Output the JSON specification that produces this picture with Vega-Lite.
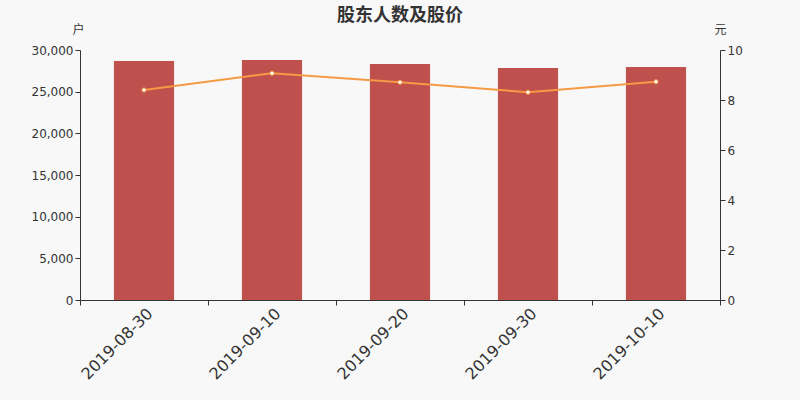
{
  "$schema": "https://vega.github.io/schema/vega-lite/v6.json",
  "width": 640,
  "height": 250,
  "autosize": "none",
  "padding": {"left": 80, "top": 50, "right": 80, "bottom": 100},
  "background": "#f8f8f8",
  "title": {
    "text": "股东人数及股价",
    "fontSize": 18,
    "font": "Noto Sans CJK SC",
    "fontWeight": "bold",
    "color": "#333333",
    "anchor": "middle",
    "offset": -2
  },
  "config": {
    "font": "DejaVu Sans",
    "view": {"stroke": null},
    "axis": {
      "domainColor": "#333333",
      "tickColor": "#333333",
      "labelColor": "#333333",
      "titleColor": "#333333",
      "grid": false,
      "labelFontSize": 12,
      "tickSize": 5
    }
  },
  "data": {
    "values": [
      {"date": "2019-08-30", "holders": 28680, "price": 8.40},
      {"date": "2019-09-10", "holders": 28800, "price": 9.07},
      {"date": "2019-09-20", "holders": 28320, "price": 8.71},
      {"date": "2019-09-30", "holders": 27840, "price": 8.31},
      {"date": "2019-10-10", "holders": 27960, "price": 8.73}
    ]
  },
  "encoding": {
    "x": {
      "field": "date",
      "type": "ordinal",
      "scale": {"paddingInner": 0, "paddingOuter": 0},
      "axis": {
        "title": null,
        "labelAngle": -45,
        "labelFontSize": 16,
        "tickBand": "extent",
        "labelPadding": 0
      }
    }
  },
  "layer": [
    {
      "mark": {"type": "bar", "color": "#c0504d", "width": {"band": 0.47}},
      "encoding": {
        "y": {
          "field": "holders",
          "type": "quantitative",
          "scale": {"domain": [0, 30000]},
          "axis": {
            "title": "户",
            "titleFont": "Noto Sans CJK SC",
            "titleFontSize": 12,
            "titleFontWeight": "normal",
            "titleAngle": 0,
            "titleAlign": "center",
            "titleBaseline": "middle",
            "titleX": -2,
            "titleY": -21,
            "tickCount": 6,
            "format": ",d"
          }
        }
      }
    },
    {
      "mark": {
        "type": "line",
        "color": "#f59a45",
        "strokeWidth": 2,
        "point": {"filled": true, "fill": "#ffffff", "stroke": "#f59a45", "strokeWidth": 1, "size": 18}
      },
      "encoding": {
        "y": {
          "field": "price",
          "type": "quantitative",
          "scale": {"domain": [0, 10]},
          "axis": {
            "orient": "right",
            "title": "元",
            "titleFont": "Noto Sans CJK SC",
            "titleFontSize": 12,
            "titleFontWeight": "normal",
            "titleAngle": 0,
            "titleAlign": "center",
            "titleBaseline": "middle",
            "titleX": 0,
            "titleY": -21,
            "values": [0, 2, 4, 6, 8, 10]
          }
        }
      }
    }
  ],
  "resolve": {"scale": {"y": "independent"}}
}
